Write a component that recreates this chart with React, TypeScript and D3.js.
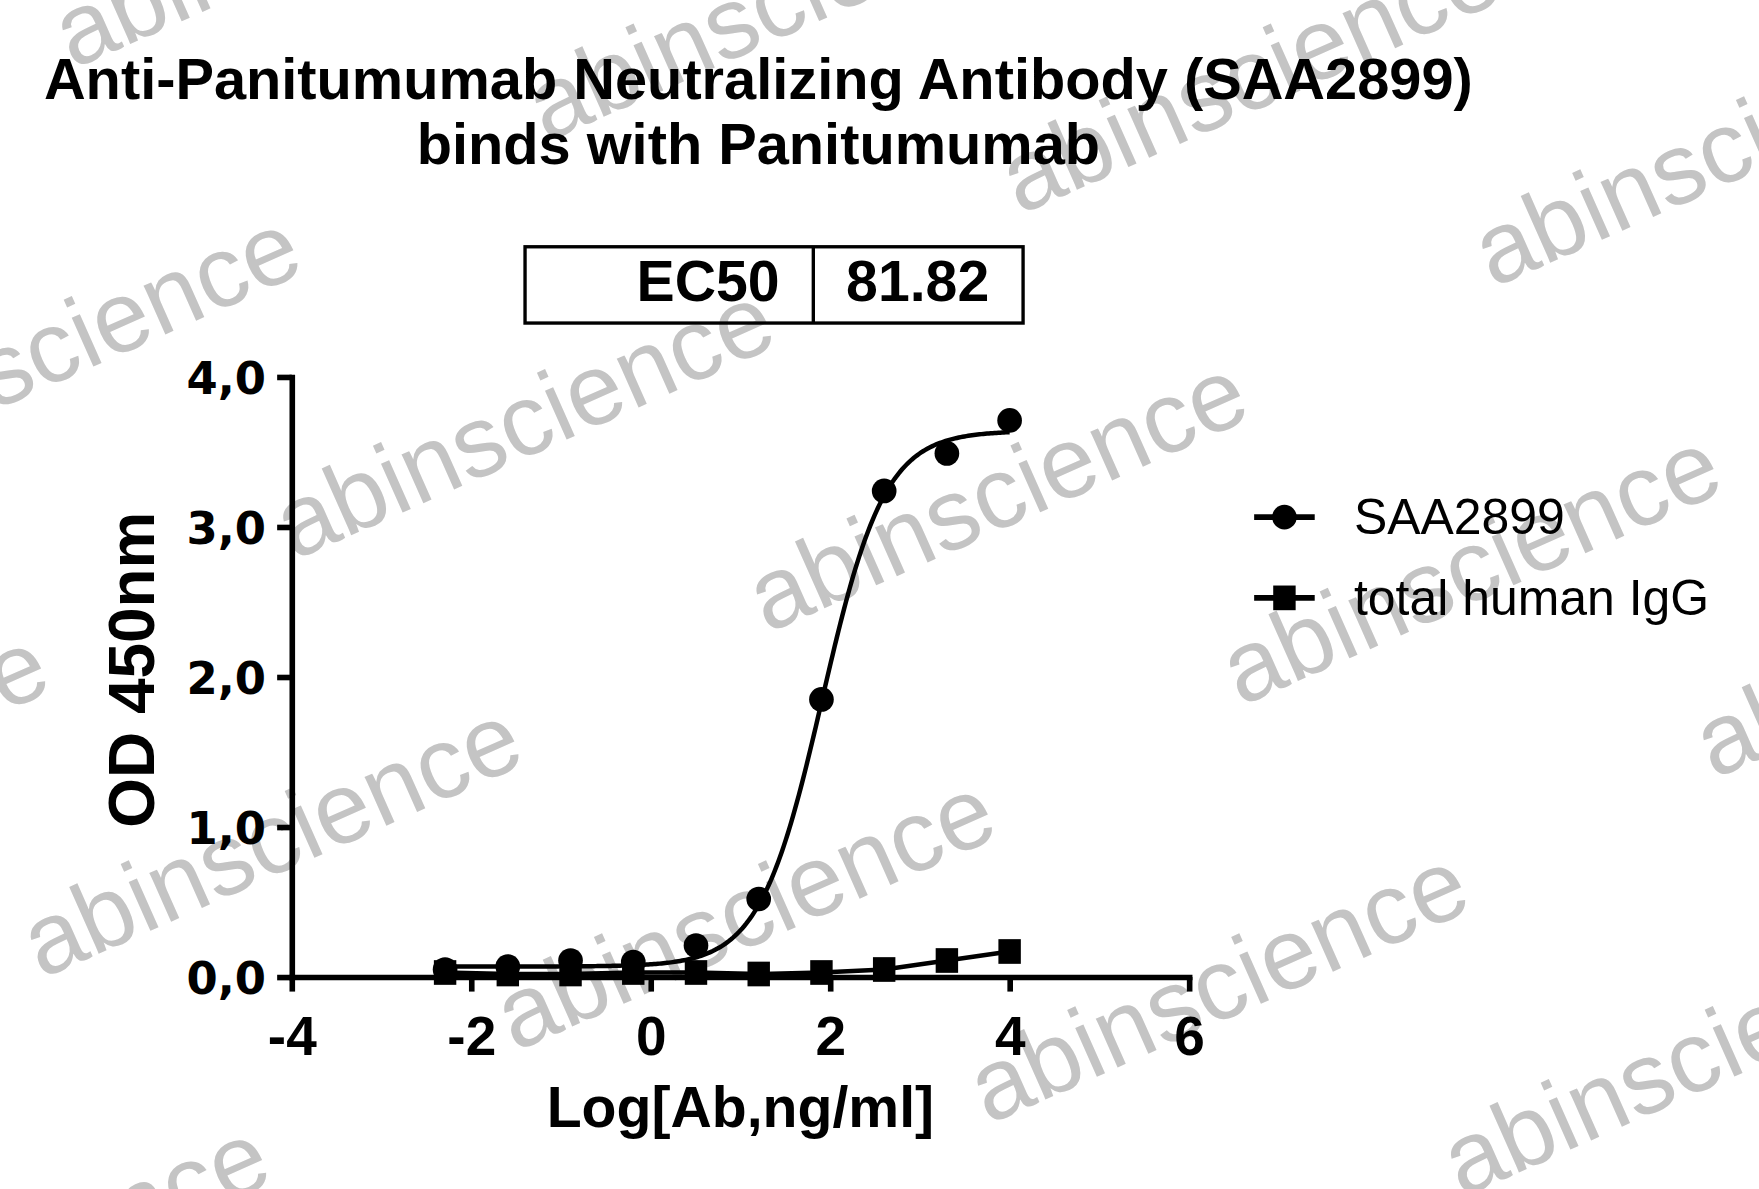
import React, { useEffect, useRef } from "react";
import * as d3 from "d3";

// log10 of antibody concentration (ng/ml), 5-fold dilutions
const logConc = [-2.291, -1.592, -0.893, -0.194, 0.505, 1.204, 1.903, 2.602, 3.301, 4.0];
const saa2899 = [0.05, 0.07, 0.11, 0.1, 0.21, 0.52, 1.85, 3.24, 3.49, 3.71];
const totalIgG = [0.03, 0.02, 0.02, 0.03, 0.03, 0.02, 0.03, 0.05, 0.11, 0.17];
const seriesNames = ["SAA2899", "total human IgG"];
const xTicks = [-4, -2, 0, 2, 4, 6];
const yTicks = [0, 1, 2, 3, 4];
const ec50Label = "EC50";
const ec50Value = "81.82";
const titleLines = ["Anti-Panitumumab Neutralizing Antibody (SAA2899)", "binds with Panitumumab"];

// four-parameter logistic fit of SAA2899
const fitBottom = 0.07;
const fitTop = 3.64;
const fitLogEC50 = Math.log10(81.82);
const fitHill = 1.25;

const W = 1568;
const H = 1060;
const BOLD = "'Liberation Sans', Arial, sans-serif";
const WIDE = "'DejaVu Sans', Verdana, sans-serif";

const logistic = (x: number): number =>
  fitBottom + (fitTop - fitBottom) / (1 + Math.pow(10, (fitLogEC50 - x) * fitHill));

const App: React.FC = () => {
  const ref = useRef<SVGSVGElement>(null);

  useEffect(() => {
    const svg = d3.select(ref.current);
    svg.selectAll("*").remove();

    const x = d3.scaleLinear().domain([-4, 6]).range([260, 1060]);
    const y = d3.scaleLinear().domain([0, 4]).range([871, 336]);

    svg.append("rect").attr("width", W).attr("height", H).attr("fill", "#fff");

    // watermark
    const wm = svg.append("g").attr("fill", "#c4c4c4").attr("font-family", BOLD).attr("font-size", 90);
    for (let i = -2; i <= 4; i++) {
      for (let j = -2; j <= 3; j++) {
        const ox = 262 + i * 422 - j * 225;
        const oy = 500 + i * 65 + j * 373;
        if (ox < -600 || ox > W + 50 || oy < -50 || oy > H + 300) continue;
        wm.append("text")
          .attr("transform", `translate(${ox},${oy}) rotate(-24)`)
          .text("abinscience");
      }
    }

    // title
    svg.append("g")
      .selectAll("text")
      .data(titleLines)
      .enter()
      .append("text")
      .attr("x", 676)
      .attr("y", (d, i) => 88 + i * 58)
      .attr("text-anchor", "middle")
      .attr("font-family", BOLD)
      .attr("font-weight", "bold")
      .attr("font-size", 51.5)
      .text((d) => d);

    // EC50 table
    const tb = svg.append("g").attr("fill", "none").attr("stroke", "#000").attr("stroke-width", 3);
    tb.append("rect").attr("x", 468).attr("y", 220).attr("width", 444).attr("height", 68);
    tb.append("line").attr("x1", 725).attr("x2", 725).attr("y1", 220).attr("y2", 288);
    svg.append("text").attr("x", 695).attr("y", 268).attr("text-anchor", "end")
      .attr("font-family", BOLD).attr("font-weight", "bold").attr("font-size", 51).text(ec50Label);
    svg.append("text").attr("x", 818).attr("y", 268).attr("text-anchor", "middle")
      .attr("font-family", BOLD).attr("font-weight", "bold").attr("font-size", 51).text(ec50Value);

    // axes
    const yAxis = d3.axisLeft(y)
      .tickValues(yTicks)
      .tickSize(13)
      .tickSizeOuter(0)
      .tickPadding(10)
      .tickFormat((d) => d3.format(".1f")(d as number).replace(".", ","));
    const gy = svg.append("g").attr("transform", "translate(260,0)").call(yAxis);
    gy.selectAll("text").attr("font-family", WIDE).attr("font-weight", "bold").attr("font-size", 40).attr("dy", "0.37em");

    const xAxis = d3.axisBottom(x)
      .tickValues(xTicks)
      .tickSize(13)
      .tickSizeOuter(0)
      .tickPadding(22)
      .tickFormat((d) => String(d));
    const gx = svg.append("g").attr("transform", "translate(0,871)").call(xAxis);
    gx.selectAll("text").attr("font-family", BOLD).attr("font-weight", "bold").attr("font-size", 49);

    [gx, gy].forEach((g) => {
      g.select(".domain").attr("stroke-width", 5).attr("stroke-linecap", "square");
      g.selectAll(".tick line").attr("stroke-width", 5);
      g.selectAll("text").attr("fill", "#000");
    });

    svg.append("text").attr("x", 660).attr("y", 1005).attr("text-anchor", "middle")
      .attr("font-family", BOLD).attr("font-weight", "bold").attr("font-size", 51).text("Log[Ab,ng/ml]");
    svg.append("text").attr("transform", "translate(137,597) rotate(-90)").attr("text-anchor", "middle")
      .attr("font-family", BOLD).attr("font-weight", "bold").attr("font-size", 57).text("OD 450nm");

    // total human IgG
    const igg = logConc.map((c, i) => [c, totalIgG[i]] as [number, number]);
    const line = d3.line<[number, number]>().x((d) => x(d[0])).y((d) => y(d[1]));
    svg.append("path").attr("d", line(igg)).attr("fill", "none").attr("stroke", "#000").attr("stroke-width", 4);
    svg.append("g").selectAll("rect").data(igg).enter().append("rect")
      .attr("x", (d) => x(d[0]) - 10).attr("y", (d) => y(d[1]) - 11)
      .attr("width", 20).attr("height", 22).attr("fill", "#000");

    // SAA2899 fitted curve + points
    const [c0, c1] = d3.extent(logConc) as [number, number];
    const fit = d3.range(c0, c1 + 0.001, (c1 - c0) / 300).map((c) => [c, logistic(c)] as [number, number]);
    svg.append("path").attr("d", line(fit)).attr("fill", "none").attr("stroke", "#000").attr("stroke-width", 4);
    const saa = logConc.map((c, i) => [c, saa2899[i]] as [number, number]);
    svg.append("g").selectAll("circle").data(saa).enter().append("circle")
      .attr("cx", (d) => x(d[0])).attr("cy", (d) => y(d[1])).attr("r", 11).attr("fill", "#000");

    // legend
    const lg = svg.append("g").attr("transform", "translate(1118,461)");
    seriesNames.forEach((name, i) => {
      const row = lg.append("g").attr("transform", `translate(0,${i * 72})`);
      row.append("line").attr("x1", 0).attr("x2", 54).attr("stroke", "#000").attr("stroke-width", 5);
      if (i === 0) row.append("circle").attr("cx", 27).attr("r", 11).attr("fill", "#000");
      else row.append("rect").attr("x", 17).attr("y", -11).attr("width", 20).attr("height", 22).attr("fill", "#000");
      row.append("text").attr("x", 89).attr("y", 15).attr("font-family", BOLD).attr("font-size", 44.5).text(name);
    });
  }, []);

  return (
    <div style={{ position: "absolute", left: 0, top: 0 }}>
      <svg ref={ref} width={1759} height={1189} viewBox={`0 0 ${W} ${H}`} />
    </div>
  );
};

export default App;
